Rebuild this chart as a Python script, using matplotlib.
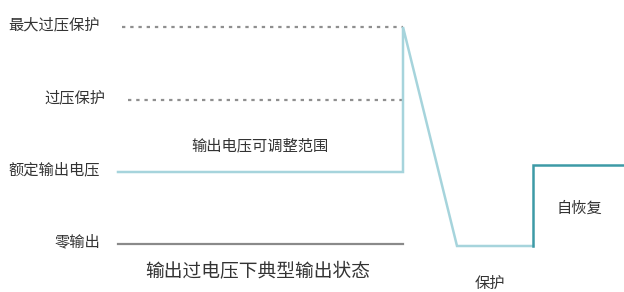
import matplotlib.pyplot as plt

plt.rcParams['font.family'] = ['Noto Sans CJK SC', 'DejaVu Sans']

# levels (screen units, top = 0)
y_max_ovp = 27
y_ovp = 100
y_rated = 172
y_zero = 244
y_protect = 246
y_recover = 165

# time points
x_start = 118
x_trip = 403
x_bottom = 457
x_restart = 533
x_end = 624

out_x = [x_start, x_trip, x_trip, x_bottom, x_restart]
out_y = [y_rated, y_rated, y_max_ovp, y_protect, y_protect]
rec_x = [x_restart, x_restart, x_end]
rec_y = [y_protect, y_recover, y_recover]

level_labels = ['最大过压保护', '过压保护', '额定输出电压', '零输出']
level_y = [y_max_ovp, y_ovp, y_rated, y_zero]

fig = plt.figure(figsize=(6.24, 2.92), dpi=100)
ax = fig.add_axes([0, 0, 1, 1])
ax.set_xlim(0, 624)
ax.set_ylim(292, 0)
ax.axis('off')

# dotted threshold lines
ax.plot([122, x_trip], [y_max_ovp, y_max_ovp], color='#8f8f8f', lw=1.6, ls=(0, (1.5, 2.2)))
ax.plot([128, x_trip], [y_ovp, y_ovp], color='#8f8f8f', lw=1.6, ls=(0, (1.5, 2.2)))
# zero output line
ax.plot([x_start, x_trip], [y_zero, y_zero], color='#8a8a8a', lw=1.6)

# output voltage trace
ax.plot(out_x, out_y, color='#a6d4dc', lw=1.8, solid_joinstyle='miter')
ax.plot(rec_x, rec_y, color='#3d9aa6', lw=1.8, solid_joinstyle='miter')

label_x = [100, 105, 100, 100]
for t, y, x in zip(level_labels, level_y, label_x):
    ax.text(x, y - 2, t, fontsize=11, color='#333333', ha='right', va='center')

ax.text(260, 146, '输出电压可调整范围', fontsize=11, color='#333333', ha='center', va='center')
ax.text(258, 272, '输出过电压下典型输出状态', fontsize=13.5, color='#333333', ha='center', va='center')
ax.text(490, 283, '保护', fontsize=11, color='#333333', ha='center', va='center')
ax.text(579, 208, '自恢复', fontsize=11, color='#333333', ha='center', va='center')

fig.savefig('out.png', dpi=100)
